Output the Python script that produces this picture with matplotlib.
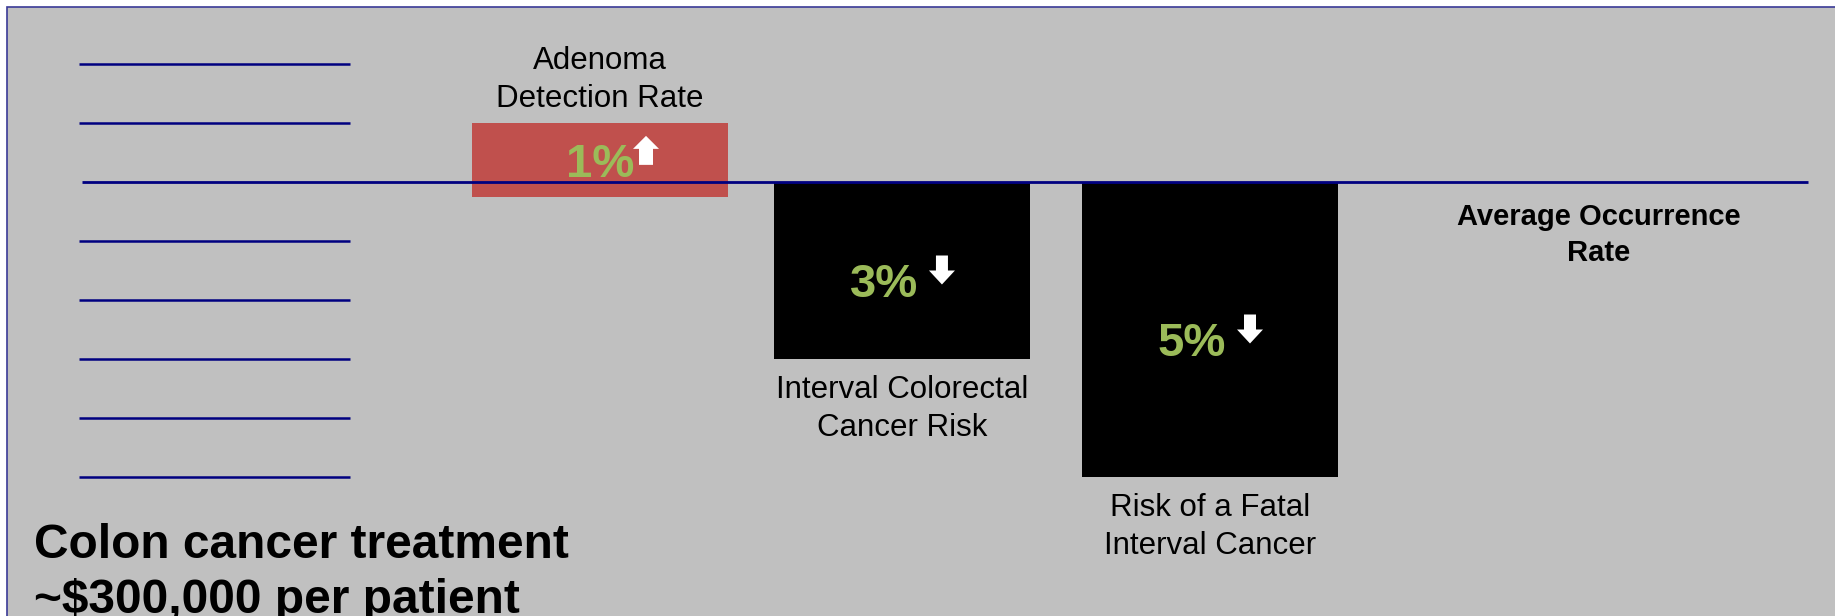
import matplotlib.pyplot as plt
import matplotlib.patches as mpatches
import matplotlib.transforms as mtransforms

# data
categories = ["Adenoma\nDetection Rate", "Interval Colorectal\nCancer Risk",
              "Risk of a Fatal\nInterval Cancer"]
values = [1, -3, -5]
pct_labels = ["1%", "3%", "5%"]
grid_levels = [2, 1, -1, -2, -3, -4, -5]
avg_label = "Average Occurrence\nRate"
title = "Colon cancer treatment\n~$300,000 per patient"

W, H = 1835, 616
BG = "#C0C0C0"
NAVY = "#000080"
RED = "#C0504D"
GREEN = "#9BBB59"

plt.rcParams['font.family'] = ['Liberation Sans', 'DejaVu Sans']

fig = plt.figure(figsize=(W / 100, H / 100), dpi=100, facecolor="white")

# slide frame
frame = mpatches.Rectangle((7 / W, -0.1), 1.2, 1 - 7 / H + 0.1,
                           transform=fig.transFigure, facecolor=BG,
                           edgecolor="#3A3A96", linewidth=1.2, zorder=-5)
fig.patches.append(frame)

ax = fig.add_axes([0, 0, 1, 1])
ax.set_facecolor("none")
ax.patch.set_alpha(0)
ax.axis("off")
ax.set_zorder(1)

# 305 px per category, category 0 centred at x=600 px
# 59 px per unit, zero at y=182 px from top
ax.set_xlim(-600 / 305, (W - 600) / 305)
ax.set_ylim(-(H - 182) / 59, 182 / 59)

positions = [0, 0.99, 2]
bar_w = 0.84
red_pad = -0.25
bottoms = [red_pad if v > 0 else 0 for v in values]
heights = [v - b for v, b in zip(values, bottoms)]
colors = [RED if v > 0 else "black" for v in values]
ax.bar(positions, heights, bottom=bottoms, width=bar_w, color=colors, zorder=2)

# short gridlines on the left and the average line
ax.hlines(grid_levels, -1.708, -0.82, color=NAVY, linewidth=1.8, zorder=3)
ax.hlines(0, -1.698, 3.961, color=NAVY, linewidth=2.0, zorder=3)


def block_arrow(x, y, dx, up):
    # arrow drawn in pixels around the anchor point (x, y) in data units
    if up:
        pts = [(-7, -5), (-7, 11), (-13, 11), (0, 24), (13, 11), (7, 11), (7, -5)]
    else:
        pts = [(-6, 24), (-6, 9), (-13, 9), (0, -5), (13, 9), (6, 9), (6, 24)]
    tr = (mtransforms.Affine2D().translate(dx, 0)
          + mtransforms.ScaledTranslation(x, y, ax.transData))
    ax.add_patch(mpatches.Polygon(pts, closed=True, facecolor="white",
                                  edgecolor="none", transform=tr, zorder=5))


for x, v, b, cat, pct in zip(positions, values, bottoms, categories, pct_labels):
    mid = (v + b) / 2
    up = v > 0
    tdx, tdy = (0, 0) if up else (-18, -9)
    adx = 46 if up else 40
    ax.annotate(pct, (x, mid), xytext=(tdx, tdy), textcoords="offset pixels",
                ha="center", va="center_baseline", fontsize=34,
                fontweight="bold", color=GREEN, zorder=6)
    # arrow anchored at the percent text centre
    y_anchor = mid + tdy / 59
    block_arrow(x, y_anchor, adx, up)
    if up:
        ax.annotate(cat, (x, v), xytext=(0, 9), textcoords="offset pixels",
                    ha="center", va="bottom", fontsize=22.5,
                    linespacing=1.35, multialignment="center")
    else:
        ax.annotate(cat, (x, v), xytext=(0, -16), textcoords="offset pixels",
                    ha="center", va="top", fontsize=22.5,
                    linespacing=1.35, multialignment="center")

fig.text(1599 / W, 1 - 203 / H, avg_label, ha="center", va="top",
         fontsize=21, fontweight="bold", linespacing=1.38,
         multialignment="center")

fig.text(34 / W, 1 - 523 / H, title, ha="left", va="top",
         fontsize=34.5, fontweight="bold", linespacing=1.29)

fig.savefig("out.png", dpi=100, facecolor="white")
